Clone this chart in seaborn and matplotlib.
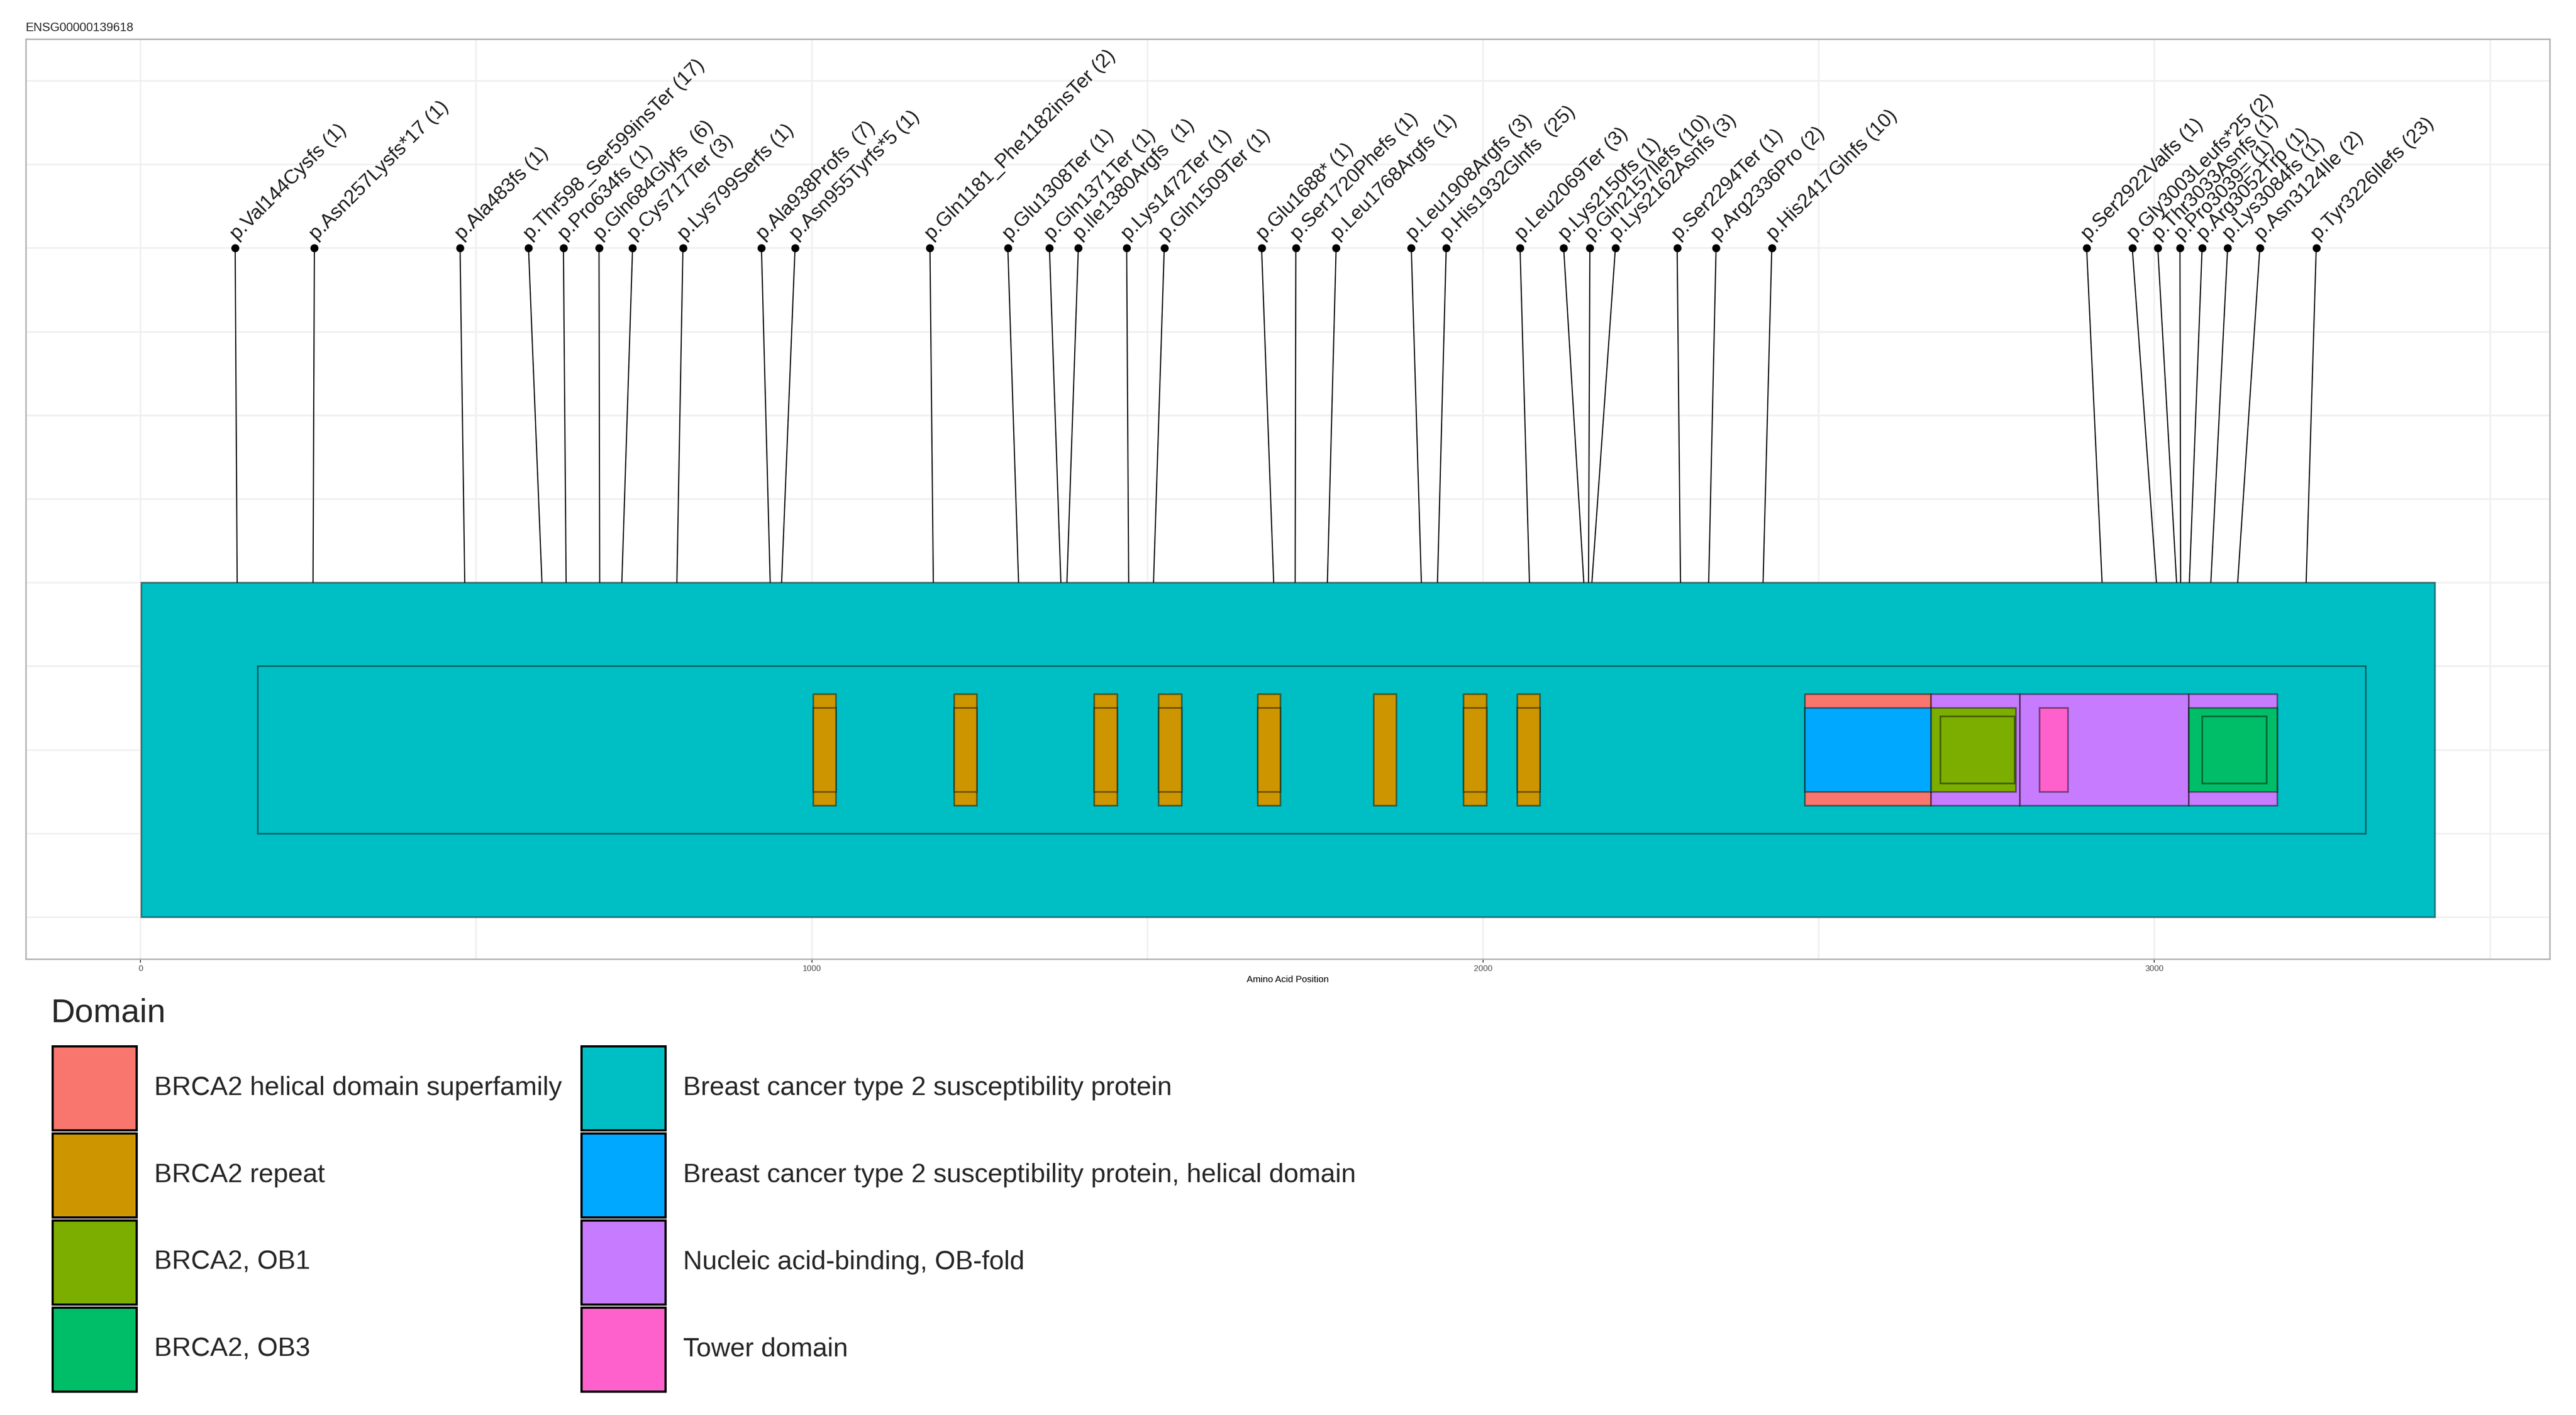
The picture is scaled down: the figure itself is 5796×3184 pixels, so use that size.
import numpy as np
import pandas as pd
import matplotlib
matplotlib.use("Agg")
import matplotlib.pyplot as plt
import matplotlib.patches as mpatches
import seaborn as sns


sns.set_theme(style="whitegrid")
plt.rcParams['font.family'] = ['Liberation Sans', 'DejaVu Sans']

gene_id = "ENSG00000139618"
protein_length = 3418

# domain entries: name, start, end and nesting level (drawn height = 1 / level)
domain_names = (
    ["Breast cancer type 2 susceptibility protein"] * 2
    + ["BRCA2 repeat"] * 8
    + ["BRCA2 helical domain superfamily"]
    + ["Nucleic acid-binding, OB-fold"] * 3
    + ["BRCA2 repeat"] * 7
    + ["Breast cancer type 2 susceptibility protein, helical domain",
       "BRCA2, OB1", "Tower domain", "BRCA2, OB3",
       "BRCA2, OB1", "BRCA2, OB3"]
)
domain_starts = [1, 175,
                 1002, 1212, 1421, 1517, 1664, 1837, 1971, 2051,
                 2479, 2667, 2800, 3051,
                 1002, 1212, 1421, 1517, 1664, 1971, 2051,
                 2479, 2667, 2829, 3051,
                 2681, 3071]
domain_ends = [3418, 3315,
               1036, 1246, 1455, 1551, 1698, 1871, 2005, 2085,
               2667, 2800, 3051, 3183,
               1036, 1246, 1455, 1551, 1698, 2005, 2085,
               2667, 2794, 2871, 3183,
               2792, 3167]
domain_levels = [1, 2,
                 3, 3, 3, 3, 3, 3, 3, 3,
                 3, 3, 3, 3,
                 4, 4, 4, 4, 4, 4, 4,
                 4, 4, 4, 4,
                 5, 5]

legend_order = ["BRCA2 helical domain superfamily", "BRCA2 repeat",
                "BRCA2, OB1", "BRCA2, OB3",
                "Breast cancer type 2 susceptibility protein",
                "Breast cancer type 2 susceptibility protein, helical domain",
                "Nucleic acid-binding, OB-fold", "Tower domain"]
hue_colours = ["#F8766D", "#CD9600", "#7CAE00", "#00BE67",
               "#00BFC4", "#00A9FF", "#C77CFF", "#FF61CC"]
domain_colours = dict(zip(legend_order, hue_colours))

mut_labels = [
    "p.Val144Cysfs (1)", "p.Asn257Lysfs*17 (1)", "p.Ala483fs (1)",
    "p.Thr598_Ser599insTer (17)", "p.Pro634fs (1)", "p.Gln684Glyfs  (6)",
    "p.Cys717Ter (3)", "p.Lys799Serfs (1)", "p.Ala938Profs  (7)",
    "p.Asn955Tyrfs*5 (1)", "p.Gln1181_Phe1182insTer (2)", "p.Glu1308Ter (1)",
    "p.Gln1371Ter (1)", "p.Ile1380Argfs  (1)", "p.Lys1472Ter (1)",
    "p.Gln1509Ter (1)", "p.Glu1688* (1)", "p.Ser1720Phefs (1)",
    "p.Leu1768Argfs (1)", "p.Leu1908Argfs (3)", "p.His1932Glnfs  (25)",
    "p.Leu2069Ter (3)", "p.Lys2150fs (1)", "p.Gln2157Ilefs (10)",
    "p.Lys2162Asnfs (3)", "p.Ser2294Ter (1)", "p.Arg2336Pro (2)",
    "p.His2417Glnfs (10)", "p.Ser2922Valfs (1)", "p.Gly3003Leufs*25 (2)",
    "p.Thr3033Asnfs (1)", "p.Pro3039= (1)", "p.Arg3052Trp (1)",
    "p.Lys3084fs (1)", "p.Asn3124Ile (2)", "p.Tyr3226Ilefs (23)",
]
mut_positions = [144, 257, 483, 598, 634, 684, 717, 799, 938, 955, 1181, 1308,
                 1371, 1380, 1472, 1509, 1688, 1720, 1768, 1908, 1932, 2069,
                 2150, 2157, 2162, 2294, 2336, 2417, 2922, 3003, 3033, 3039,
                 3052, 3084, 3124, 3226]
# repelled label positions (amino acids)
label_positions = [141, 259, 476, 578, 630, 683, 733, 808, 925, 975, 1176, 1292,
                   1354, 1397, 1469, 1525, 1670, 1721, 1781, 1893, 1945, 2055,
                   2120, 2159, 2197, 2289, 2347, 2430, 2899, 2967, 3005, 3038,
                   3071, 3109, 3157, 3241]
label_height = 2.0

dom = pd.DataFrame({"domain": domain_names, "start": domain_starts,
                    "end": domain_ends, "level": domain_levels})
dom["height"] = 1 / dom["level"]
dom["bottom"] = 0.5 - dom["height"] / 2

muts = pd.DataFrame({"label": mut_labels, "pos": mut_positions,
                     "label_x": label_positions})
muts["label_y"] = label_height

fig = plt.figure(figsize=(5796 / 300, 3184 / 300), dpi=300)
ax = fig.add_axes([58 / 5796, 1 - 2158 / 3184, (5737 - 58) / 5796, (2158 - 88) / 3184])

# stems
for _, m in muts.iterrows():
    ax.plot([m.pos, m.label_x], [1, m.label_y], color="black", lw=0.6, zorder=1)

# domains
for _, d in dom.sort_values("level", kind="stable").iterrows():
    ax.bar(d.start, d.height, width=d.end - d.start, bottom=d.bottom, align="edge",
           color=domain_colours[d.domain], edgecolor=(0, 0, 0, 0.45),
           linewidth=0.9, zorder=2 + d.level)

sns.scatterplot(data=muts, x="label_x", y="label_y", color="black", s=16,
                edgecolor=None, ax=ax, zorder=10, legend=False)

for _, m in muts.iterrows():
    ax.annotate(m.label, (m.label_x, m.label_y), xytext=(2.5, 2.5),
                textcoords="offset points", rotation=45, rotation_mode="anchor",
                ha="left", va="bottom", fontsize=10.7, color="#1a1a1a")

ax.set_xlim(-0.05 * protein_length, 1.05 * protein_length)
ax.set_ylim(-0.125, 2.625)
ax.set_xticks([0, 1000, 2000, 3000])
ax.set_xticks([500, 1500, 2500, 3500], minor=True)
ax.set_yticks(np.arange(0, 2.51, 0.25))
ax.set_yticklabels([])
ax.grid(which="both", color="#F0F0F0", lw=0.9)
ax.tick_params(axis="y", length=0)
ax.tick_params(axis="x", which="major", bottom=True, length=1.8, width=0.5,
               color="#333333", labelsize=4.5, labelcolor="#4D4D4D", pad=1.5)
ax.tick_params(axis="x", which="minor", length=0)
ax.set_xlabel("Amino Acid Position", fontsize=5, labelpad=1.5, color="black")
ax.set_ylabel("")
for s in ax.spines.values():
    s.set_visible(True)
    s.set_color("#B3B3B3")
    s.set_linewidth(0.8)
ax.set_facecolor("white")

fig.text(58 / 5796, 1 - 63 / 3184, gene_id, fontsize=6.5, ha="left", va="center")

# legend title drawn separately so the gap to the keys matches
fig.text(115 / 5796, 1 - 2280 / 3184, "Domain", fontsize=18, ha="left", va="center")
handles = [mpatches.Patch(facecolor=domain_colours[n], edgecolor="black",
                          linewidth=1.2, label=n) for n in legend_order]
fig.legend(handles=handles, loc="upper left",
           bbox_to_anchor=(118 / 5796, 1 - 2354 / 3184), ncol=2, frameon=False,
           fontsize=14.3, handlelength=3.17, handleheight=4.5,
           labelspacing=0.12, handletextpad=0.67, columnspacing=0.74,
           borderpad=0, borderaxespad=0)

fig.savefig("out.png", dpi=300)
plt.close()
